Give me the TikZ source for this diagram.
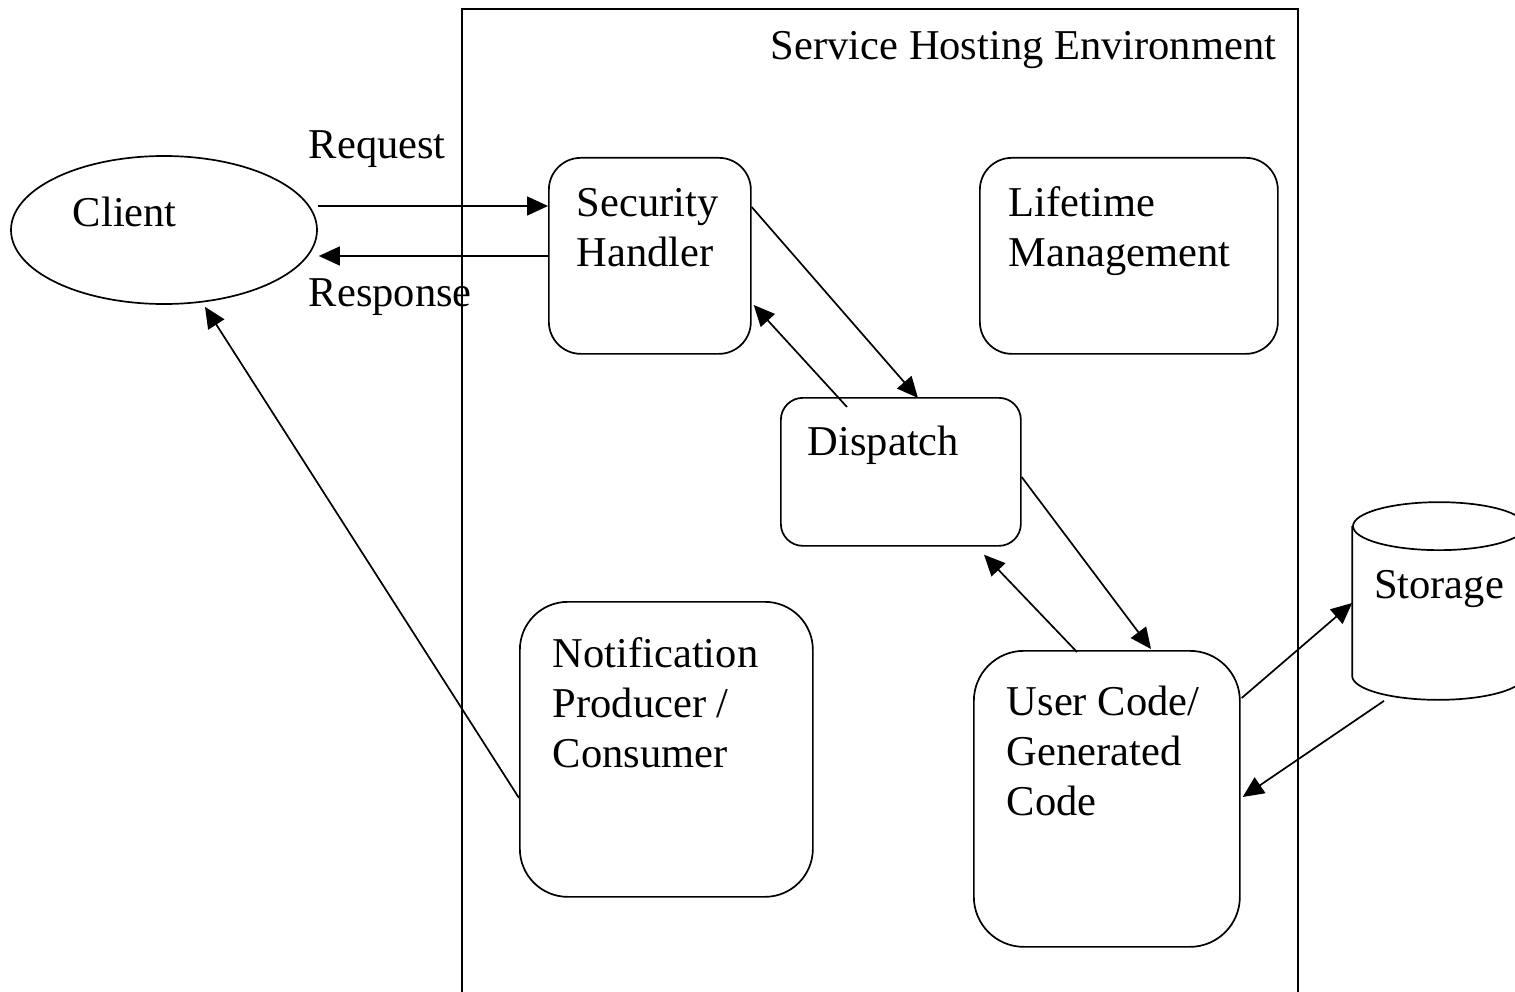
\documentclass[tikz,border=0pt]{standalone}
\usepackage{fontspec}
\setmainfont{Liberation Serif}
\usetikzlibrary{arrows.meta,calc,shapes.geometric}

\begin{document}
\begin{tikzpicture}[x=1pt,y=-1pt,line width=1.7pt,
		every node/.style={font=\fontsize{42.5}{50}\selectfont},
		box/.style={draw, rounded corners=#1, inner sep=0pt, anchor=north west},
		txt/.style={anchor=base west, align=left, inner sep=0pt},
		arr/.style={-{Triangle[length=21pt,width=19pt]}}]
			\useasboundingbox (0,0) rectangle (1515,992);
			\def \wide{ 836 };
			\node[draw, inner sep=0pt, anchor=north west, minimum width=\wide, minimum height=1010] (env) at (461,8) {};
			\node[txt, anchor=base east] (envtxt) at (1277,60) {Service Hosting Environment};
			\node[draw, ellipse, inner sep=0pt, minimum width=306, minimum height=148] (client) at (164,230) {};
			\node[txt] (clienttxt) at (72,227) {Client};
			\node[box=32pt, minimum width=202, minimum height=196] (sec) at (548,157) {};
			\node[txt] (sectxt) at (576,267) {Security\\Handler};
			\node[box=32pt, minimum width=298, minimum height=196] (life) at (979,157) {};
			\node[txt] (lifetxt) at (1008,267) {Lifetime\\Management};
			\node[box=22pt, minimum width=240, minimum height=148] (disp) at (780,397) {};
			\node[txt] (disptxt) at (807,455) {Dispatch};
			\node[box=48pt, minimum width=293, minimum height=295] (note) at (519,601) {};
			\node[txt] (notetxt) at (552,767) {Notification\\Producer /\\Consumer};
			\node[box=50pt, minimum width=266, minimum height=296] (user) at (973,650) {};
			\node[txt] (usertxt) at (1006,815) {User Code/\\Generated\\Code};
			\node[inner sep=0pt, minimum width=172, minimum height=148] (store) at (1439,601) {};
			\draw (store.north west) -- (store.south west) arc[start angle=180, end angle=360, x radius=86pt, y radius=24pt] -- (store.north east);
			\draw (store.north) ellipse[x radius=86pt, y radius=24pt];
			\node[txt, anchor=base] (storetxt) at (1439,598) {Storage};
			\node[txt] (reqtxt) at (308,159) {Request};
			\node[txt] (restxt) at (308,307) {Response};
			\draw[arr] ($(client.east)+(0,-24)$) -- ($(sec.north west)+(0,49)$);
			\draw[arr] ($(sec.north west)+(0,99)$) -- ($(client.east)+(1,26)$);
			\draw[arr] ($(note.north west)+(0,197)$) -- ($(client.south)+(41,2)$);
			\draw[arr] ($(sec.north east)+(0,50)$) -- ($(disp.north west)+(138,1)$);
			\draw[arr] ($(disp.north west)+(67,10)$) -- ($(sec.north east)+(2,148)$);
			\draw[arr] ($(disp.north east)+(0,80)$) -- ($(user.north west)+(178,-1)$);
			\draw[arr] ($(user.north west)+(104,2)$) -- ($(disp.south west)+(204,8)$);
			\draw[arr] ($(user.north east)+(1,48)$) -- ($(store.west)+(0,2)$);
			\draw[arr] ($(store.south)+(-55,25)$) -- ($(user.north east)+(2,147)$);
		\end{tikzpicture}
\end{document}
